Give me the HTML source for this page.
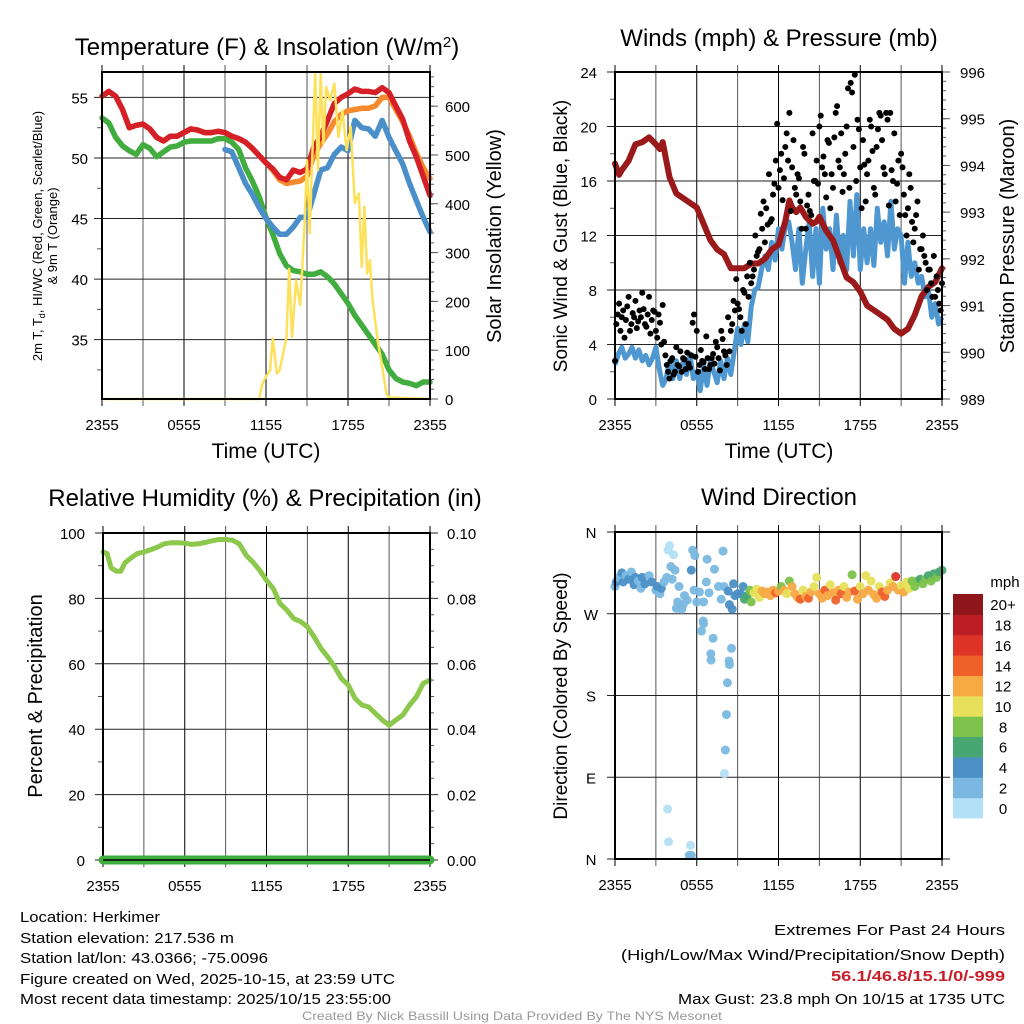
<!DOCTYPE html>
<html><head><meta charset="utf-8"><style>
html,body{margin:0;padding:0;background:#fff;}
svg{display:block;font-family:"Liberation Sans",sans-serif;}
</style></head><body>
<svg id="root" width="1024" height="1024" viewBox="0 0 1024 1024" xmlns="http://www.w3.org/2000/svg">
<g id="g1"></g>
<g id="g2"></g>
<g id="g3"></g>
<g id="g4"></g>
<g font-size="15" fill="#000">
<text x="20" y="922" textLength="140" lengthAdjust="spacingAndGlyphs">Location: Herkimer</text>
<text x="20" y="943" textLength="214" lengthAdjust="spacingAndGlyphs">Station elevation: 217.536 m</text>
<text x="20" y="963" textLength="248" lengthAdjust="spacingAndGlyphs">Station lat/lon: 43.0366; -75.0096</text>
<text x="20" y="984" textLength="375" lengthAdjust="spacingAndGlyphs">Figure created on Wed, 2025-10-15, at 23:59 UTC</text>
<text x="20" y="1004" textLength="371" lengthAdjust="spacingAndGlyphs">Most recent data timestamp: 2025/10/15 23:55:00</text>
<text x="1005" y="935" text-anchor="end" textLength="231" lengthAdjust="spacingAndGlyphs">Extremes For Past 24 Hours</text>
<text x="1005" y="960" text-anchor="end" textLength="384" lengthAdjust="spacingAndGlyphs">(High/Low/Max Wind/Precipitation/Snow Depth)</text>
<text x="1005" y="981" text-anchor="end" textLength="174" lengthAdjust="spacingAndGlyphs" fill="#c8202a" font-weight="bold">56.1/46.8/15.1/0/-999</text>
<text x="1005" y="1004" text-anchor="end" textLength="327" lengthAdjust="spacingAndGlyphs">Max Gust: 23.8 mph On 10/15 at 1735 UTC</text>
<text x="512" y="1020" text-anchor="middle" font-size="12" fill="#999" textLength="420" lengthAdjust="spacingAndGlyphs">Created By Nick Bassill Using Data Provided By The NYS Mesonet</text>
</g>
</svg>
<script>
// ---------- DATA ----------
const tempRed = [55.1,55.5,55.1,54.0,52.5,52.7,52.8,52.4,51.7,51.4,51.8,51.8,52.1,52.4,52.3,52.1,52.1,52.2,52.1,51.8,51.6,51.3,50.8,50.2,49.6,49.1,48.4,48.2,49.0,48.8,49.1,50.9,51.8,53.1,54.5,55.0,55.3,55.7,55.5,55.5,55.4,55.8,55.4,54.3,53.2,51.4,50.1,48.5,46.9];
const tempOrange = [55.1,55.5,55.1,54.0,52.5,52.7,52.8,52.4,51.7,51.4,51.8,51.8,52.1,52.4,52.3,52.1,52.1,52.2,52.1,51.8,51.6,51.3,50.8,50.2,49.6,49.0,48.2,47.9,48.0,48.1,48.5,50.2,51.2,52.0,53.0,53.6,53.9,54.0,54.1,54.1,54.3,55.0,55.0,54.0,53.0,51.8,50.4,49.2,48.3];
const dewGreen = [53.3,52.9,51.7,51.0,50.6,50.3,51.1,50.8,50.1,50.5,50.9,51.0,51.3,51.4,51.4,51.4,51.4,51.6,51.6,51.3,50.7,49.2,48.1,46.8,45.1,43.7,42.1,41.1,40.7,40.6,40.4,40.4,40.6,40.2,39.6,38.8,38.0,37.0,36.2,35.4,34.6,33.8,32.5,31.8,31.5,31.4,31.2,31.5,31.5];
const chillBlue = [null,null,null,null,null,null,null,null,null,null,null,null,null,null,null,null,null,null,50.7,50.5,49.2,47.9,47.0,45.9,45.0,44.3,43.7,43.7,44.3,45.1,45.1,47.0,49.0,49.2,50.3,50.9,50.6,53.1,52.5,52.4,51.8,53.1,51.7,50.6,49.5,47.9,46.5,45.1,43.9];
const solarHours = [0,11.5,11.7,12.0,12.3,12.5,12.8,13.0,13.5,13.7,13.9,14.2,14.5,14.8,15.0,15.2,15.4,15.6,15.8,16.0,16.2,16.4,16.7,17.0,17.3,17.6,17.9,18.2,18.5,18.8,19.0,19.2,19.4,19.6,19.8,20.2,20.5,20.8,21.0,24];
const solarValues = [0,0,28,46,59,124,52,59,127,267,127,243,192,346,489,340,510,666,469,666,523,639,612,646,537,591,510,558,401,421,271,394,257,284,202,114,66,12,3,0];
const sonicWind = [2.5,3.3,3.8,3.0,3.3,3.8,3.0,3.6,2.8,3.2,2.5,3.0,3.8,2.2,1.0,1.5,2.8,1.5,2.8,1.5,2.8,1.8,3.3,1.5,2.0,0.6,2.5,1.0,2.8,2.0,1.2,2.8,1.5,3.0,1.8,3.5,5.2,4.0,5.5,4.2,6.8,8.0,8.2,9.5,10.5,9.5,11.5,10.2,12.5,11.0,12.8,13.0,11.5,9.5,12.5,8.5,11.0,13.0,9.0,12.5,8.5,14.0,11.0,12.5,9.5,13.5,10.0,12.0,9.5,14.5,10.5,15.0,9.5,12.5,10.0,12.5,9.8,14.0,11.5,13.0,10.5,14.5,11.0,12.5,12.0,8.5,11.5,9.0,10.0,8.5,9.0,7.5,8.0,6.0,7.0,5.5,6.0];
const gustValues = [2.8,6.2,5.0,6.5,5.8,7.5,5.5,6.0,5.2,6.5,7.8,5.5,6.2,4.8,6.5,5.0,6.2,4.0,4.2,2.5,1.5,3.0,2.0,2.5,3.5,3.0,2.2,2.6,3.2,6.2,5.0,2.5,2.8,2.2,3.0,2.5,3.3,4.2,3.0,5.0,3.5,2.5,3.5,5.5,6.5,7.0,6.0,8.0,5.5,7.5,8.5,9.5,10.5,11.0,12.5,11.5,12.8,13.0,15.0,17.5,15.5,18.0,16.2,19.5,21.0,17.0,15.5,16.5,14.5,18.5,12.5,15.0,13.5,16.0,17.5,20.0,17.0,16.5,19.0,14.0,15.5,21.0,17.5,19.5,16.5,20.0,15.5,22.5,23.8,20.5,17.0,19.0,14.5,17.5,20.0,15.5,18.5,21.0,19.0,16.5,20.5,21.0,16.0,14.5,17.5,18.0,15.0,12.0,16.5,13.0,12.5,14.5,11.0,12.0,10.0,9.5,8.5,10.5,9.0,7.0,8.5];
// second gust series, offset by 0.1 h
const gustValues2 = [5.5,7.0,6.0,4.5,6.8,5.0,6.3,7.2,5.7,6.0,6.6,5.3,7.5,5.8,6.4,4.5,5.6,6.9,3.2,2.0,2.8,1.8,3.8,2.4,2.0,2.9,3.4,2.3,5.6,3.1,2.0,3.6,2.7,4.6,2.2,3.0,2.6,3.8,2.1,4.4,3.2,6.0,5.0,7.2,8.8,6.6,5.0,7.8,9.0,10.0,9.0,12.0,10.8,13.6,14.5,14.0,16.5,13.2,15.8,20.2,16.8,14.6,18.5,17.5,13.8,19.0,15.0,16.2,12.5,18.0,14.2,13.8,19.5,16.0,15.8,20.8,17.8,14.8,18.8,16.5,19.2,21.5,17.0,15.2,18.0,22.8,23.2,18.5,16.0,19.8,14.0,17.2,16.5,20.5,18.2,15.0,19.8,20.8,17.0,21.0,14.2,16.8,19.5,15.8,13.5,17.0,13.5,14.0,15.5,11.5,13.5,9.5,11.0,10.5,8.0,9.5,7.5,7.5,8.0,6.5];
const pressHours = [0,0.3,0.5,1,1.5,2,2.5,3,3.3,3.5,4,4.5,5,5.5,6,6.5,7,7.5,8,8.5,9,9.5,10,10.5,11,11.5,12,12.5,12.8,13,13.3,13.6,14,14.5,14.8,15,15.5,16,16.5,17,17.5,18,18.5,19,19.5,20,20.5,21,21.5,22,22.5,23,23.5,24];
const pressValues = [994.04,993.8,993.9,994.1,994.45,994.5,994.6,994.45,994.35,994.5,993.75,993.4,993.3,993.2,993.1,992.75,992.4,992.2,992.1,991.8,991.8,991.8,991.9,991.9,992.0,992.2,992.3,992.8,993.25,993.1,993.0,993.1,992.9,992.75,992.8,992.9,992.6,992.4,992.0,991.6,991.5,991.3,991.0,990.9,990.8,990.7,990.5,990.4,990.5,990.8,991.2,991.4,991.5,991.8];
const rhHours = [0,0.3,0.6,1,1.3,1.6,2,2.5,3,3.5,4,4.5,5,5.5,6,6.5,7,7.5,8,8.5,9,9.5,10,10.5,11,11.5,12,12.5,13,13.5,14,14.5,15,15.5,16,16.5,17,17.5,18,18.5,19,19.5,20,20.5,21,21.5,22,22.5,23,23.5,24];
const rhValues = [94.2,93.7,89.3,88.3,88.3,90.8,92.2,93.7,94.2,94.9,95.7,96.7,97.0,97.0,96.9,96.5,96.7,97.1,97.6,98.0,98.0,97.8,96.7,93.2,91.1,88.6,85.5,83.0,78.4,76.4,73.8,72.9,71.3,68.2,64.7,62.1,59.1,55.5,53.5,49.4,47.4,46.8,44.8,42.8,41.2,42.8,44.3,47.4,49.9,54.0,55.0];
const precipHours = [0,24];
const precipValues = [0,0];
const dirHours = [0.0,0.1,0.3,0.5,0.6,0.8,1.0,1.2,1.4,1.5,1.7,1.9,2.0,2.2,2.5,2.7,3.0,3.1,3.3,3.4,3.6,3.8,3.9,4.0,4.1,4.2,4.3,4.4,4.5,4.6,4.7,4.9,5.0,5.1,5.3,5.7,5.86,6.76,7.93,5.6,5.8,6.0,6.2,6.5,6.7,6.9,7.3,7.6,7.8,8.0,8.3,8.4,8.6,8.7,8.8,9.0,
6.47,6.5,6.35,7.2,7.03,7.05,8.55,8.37,8.4,8.25,8.18,8.1,8.03,3.86,3.93,5.54,5.45,5.6,
9.2,9.4,9.5,9.7,9.9,10.0,10.2,10.4,10.6,10.8,11.0,11.2,11.4,11.6,11.8,12.0,12.2,12.4,12.6,12.8,13.0,13.2,13.4,13.6,13.8,14.0,14.2,14.4,14.6,14.8,15.0,15.2,15.4,15.6,15.8,16.0,16.2,16.4,16.6,16.8,17.0,17.2,17.4,17.6,17.8,18.0,18.2,18.4,18.6,18.8,19.0,19.2,19.4,19.6,19.8,20.0,20.2,20.4,20.6,20.8,21.0,21.2,21.4,21.6,21.8,22.0,22.2,22.4,22.6,22.8,23.0,23.2,23.4,23.6,23.8,24.0];
const dirDegrees = [300,305,310,315,305,312,308,316,302,310,306,298,310,303,312,305,296,300,292,298,305,310,340,345,322,308,335,318,276,283,300,275,280,290,285,340,334,330,339,318,296,283,294,283,305,293,319,300,286,300,295,280,275,303,290,292,
262,259,251,243,226,219,232,218,214,194,159,120,94,55,19,15,4,4,
292,300,286,290,296,283,293,297,288,295,292,294,290,296,293,295,300,296,292,306,300,292,288,286,296,289,287,294,300,310,292,287,296,290,302,293,285,296,292,300,288,294,313,295,286,300,292,312,296,306,291,287,300,294,289,296,304,300,311,296,301,294,305,298,306,300,306,308,303,308,312,306,314,310,316,318];
const dirSpeeds = [3,4,3,5,4,3,4,3,4,5,3,3,4,4,3,5,3,4,3,4,3,2,1,0.5,3,2,1,3,3,3,3,3,3,3,3,3,3,3,3,5,3,3,3,3,3,3,3,3,3,3,4,4,4,4,5,5,
3,3,3,3,3,3,3,3,3,3,3,3,1,1,1,1,3,3,
5,4,7,6,9,8,10,11,10,12,13,12,12,13,14,12,9,12,11,8,12,13,12,14,10,13,14,12,11,10,13,12,14,13,10,12,15,12,15,10,12,13,8,14,12,10,13,10,12,11,12,13,10,14,15,12,10,12,17,13,11,12,10,11,9,8,8,7,9,8,7,9,7,8,7,7];
const speedLabels = ["0","2","4","6","8","10","12","14","16","18","20+"];
const speedColors = ["#b3e0f6","#7ab8e2","#4a8fc6","#48a673","#7cc24b","#e6e05a","#f7a944","#ef6129","#de3327","#bc1c23","#8e1519"];
const timeTickLabels = ["2355","0555","1155","1755","2355"];
const tempTicks = [35,40,45,50,55];
const solarTicks = [0,100,200,300,400,500,600];
const windTicks = [0,4,8,12,16,20,24];
const pressTicks = [989,990,991,992,993,994,995,996];
const rhTicks = [0,20,40,60,80,100];
const precipTicks = ["0.00","0.02","0.04","0.06","0.08","0.10"];
const dirTickLabels = ["N","E","S","W","N"];

// ---------- HELPERS ----------
const NS = "http://www.w3.org/2000/svg";
function mk(parent, tag, attrs){const e=document.createElementNS(NS,tag);for(const k in attrs)e.setAttribute(k,attrs[k]);parent.appendChild(e);return e;}
function lin(d0,d1,r0,r1){return v=>r0+(v-d0)*(r1-r0)/(d1-d0);}
function txt(parent, x,y,s,size,anchor,name,extra){const t=mk(parent,'text',Object.assign({x:x,y:y,'font-size':size,'text-anchor':anchor||'start',fill:'#000'},extra||{}));t.textContent=s;


return t;}
function pathFrom(xs, ys, fx, fy){let d='';let pen=false;for(let i=0;i<xs.length;i++){if(ys[i]===null){pen=false;continue;}d+=(pen?'L':'M')+fx(xs[i]).toFixed(1)+','+fy(ys[i]).toFixed(1);pen=true;}return d;}

function frame(g, L,R,T,B){
  const fx=lin(0,24,L,R);
  for(let h=0;h<=24;h+=3){
    const x=fx(h);
    const gl=mk(g,'line',{x1:x,y1:T-7,x2:x,y2:B+7,stroke:(h%6===0)?'#000':'#555','stroke-width':1});
    
    
  }
  for(let i=0;i<timeTickLabels.length;i++){
    txt(g, fx(i*6), B+31, timeTickLabels[i], 15, 'middle', 'x-tick-label');
  }
}
function border(g,L,R,T,B){
  const r=mk(g,'rect',{x:L,y:T,width:R-L,height:B-T,fill:'none',stroke:'#000','stroke-width':2});
  
  
}
function hgrid(g,L,R,y,lt,rt){
  const l=mk(g,'line',{x1:L-(lt||0),y1:y,x2:R+(rt||0),y2:y,stroke:'#222','stroke-width':1});
  
  
}
function tick(g,x1,y1,x2,y2){
  const l=mk(g,'line',{x1:x1,y1:y1,x2:x2,y2:y2,stroke:'#555','stroke-width':1});
  
  
}

// ---------- PANEL 1 ----------
(function(){
  const g=document.getElementById('g1');
  const L=102,R=430,T=72,B=399;
  const fx=lin(0,24,L,R), fy=lin(30.1,57.1,B,T), fs=lin(0,670,B,T);
  const title=txt(g,267,55,'Temperature (F) & Insolation (W/m',24,'middle','temperature-title');
  const sup=mk(title,'tspan',{'baseline-shift':'super','font-size':15});sup.textContent='2';
  const tc=mk(title,'tspan',{});tc.textContent=')';
  frame(g,L,R,T,B);
  for(const v of tempTicks){hgrid(g,L,R,fy(v),8,0);txt(g,88,fy(v)+6,String(v),15,'end','temp-tick-label');}
  for(let v=32.5;v<57;v+=5)tick(g,L-5,fy(v),L,fy(v));
  for(const v of solarTicks){tick(g,R,fs(v),R+8,fs(v));txt(g,445,fs(v)+6,String(v),15,'start','solar-tick-label');}
  for(let v=20;v<670;v+=20)tick(g,R,fs(v),R+4,fs(v));
  const hh=tempRed.map((_,i)=>i*0.5);
  const s1=mk(g,'path',{d:pathFrom(hh,dewGreen,fx,fy),fill:'none',stroke:'#42ad3f','stroke-width':5.5,'stroke-linejoin':'round','stroke-linecap':'round'});
  
  
  const s2=mk(g,'path',{d:pathFrom(hh,chillBlue,fx,fy),fill:'none',stroke:'#4a8fc9','stroke-width':5.5,'stroke-linejoin':'round','stroke-linecap':'round'});
  
  
  const s3=mk(g,'path',{d:pathFrom(hh,tempOrange,fx,fy),fill:'none',stroke:'#f58a2e','stroke-width':5.5,'stroke-linejoin':'round','stroke-linecap':'round'});
  
  
  const s4=mk(g,'path',{d:pathFrom(hh,tempRed,fx,fy),fill:'none',stroke:'#d62027','stroke-width':5.5,'stroke-linejoin':'round','stroke-linecap':'round'});
  
  
  const s5=mk(g,'path',{d:pathFrom(solarHours,solarValues,fx,fs),fill:'none',stroke:'#fde15a','stroke-width':2.5,'stroke-linejoin':'round'});
  
  
  border(g,L,R,T,B);
  txt(g,266,458,'Time (UTC)',21,'middle','x-axis-title');
  const yl=mk(g,'text',{transform:'translate(42,236) rotate(-90)','font-size':13,'text-anchor':'middle',fill:'#000'});
  
  
  const a=mk(yl,'tspan',{x:0,y:0});a.textContent='2m T, T';
  const b=mk(yl,'tspan',{'font-size':9,dy:3});b.textContent='d';
  const c=mk(yl,'tspan',{dy:-3});c.textContent=', HI/WC (Red, Green, Scarlet/Blue)';
  const d=mk(yl,'tspan',{x:0,dy:15});d.textContent='& 9m T (Orange)';
  txt(g,0,0,'Solar Insolation (Yellow)',20,'middle','solar-axis-title',{transform:'translate(501,236) rotate(-90)'});
})();

// ---------- PANEL 2 ----------
(function(){
  const g=document.getElementById('g2');
  const L=615,R=942,T=72,B=399;
  const fx=lin(0,24,L,R), fy=lin(0,24,B,T), fp=lin(989,996,B,T);
  txt(g,779,46,'Winds (mph) & Pressure (mb)',24,'middle','winds-title');
  frame(g,L,R,T,B);
  for(const v of windTicks){hgrid(g,L,R,fy(v),8,0);txt(g,597,fy(v)+6,String(v),15,'end','wind-tick-label');}
  for(let v=2;v<24;v+=4)tick(g,L-5,fy(v),L,fy(v));
  for(const v of pressTicks){tick(g,R,fp(v),R+8,fp(v));txt(g,960,fp(v)+6,String(v),15,'start','pressure-tick-label');}
  for(let v=989.2;v<996;v+=0.2)tick(g,R,fp(v),R+4,fp(v));
  const qh=sonicWind.map((_,i)=>i*0.25);
  const w=mk(g,'path',{d:pathFrom(qh,sonicWind,fx,fy),fill:'none',stroke:'#4f97d1','stroke-width':5,'stroke-linejoin':'round'});
  
  
  const p=mk(g,'path',{d:pathFrom(pressHours,pressValues,fx,fp),fill:'none',stroke:'#9a1a1c','stroke-width':6,'stroke-linejoin':'round','stroke-linecap':'round'});
  
  
  for(let i=0;i<gustValues.length;i++){
    const c=mk(g,'circle',{cx:fx(i*0.2),cy:fy(gustValues[i]),r:3,fill:'#000'});
    
    
  }
  for(let i=0;i<gustValues2.length;i++){
    const c=mk(g,'circle',{cx:fx(0.1+i*0.2),cy:fy(gustValues2[i]),r:3,fill:'#000'});
    
    
  }
  border(g,L,R,T,B);
  txt(g,779,458,'Time (UTC)',21,'middle','x-axis-title');
  txt(g,0,0,'Sonic Wind & Gust (Blue, Black)',19,'middle','wind-axis-title',{transform:'translate(567,236) rotate(-90)'});
  txt(g,0,0,'Station Pressure (Maroon)',20,'middle','pressure-axis-title',{transform:'translate(1014,236) rotate(-90)'});
})();

// ---------- PANEL 3 ----------
(function(){
  const g=document.getElementById('g3');
  const L=103,R=430,T=533,B=860;
  const fx=lin(0,24,L,R), fy=lin(0,100,B,T), fpr=lin(0,0.1,B,T);
  txt(g,265,506,'Relative Humidity (%) & Precipitation (in)',24,'middle','humidity-title');
  frame(g,L,R,T,B);
  for(const v of rhTicks){hgrid(g,L,R,fy(v),8,8);txt(g,85,fy(v)+6,String(v),15,'end','rh-tick-label');}
  for(let v=10;v<100;v+=20)tick(g,L-5,fy(v),L,fy(v));
  for(let i=0;i<precipTicks.length;i++){txt(g,447,fy(i*20)+6,precipTicks[i],15,'start','precip-tick-label');}
  for(let v=5;v<100;v+=5)tick(g,R,fy(v),R+4,fy(v));
  const rh=mk(g,'path',{d:pathFrom(rhHours,rhValues,fx,fy),fill:'none',stroke:'#8cc84b','stroke-width':5,'stroke-linejoin':'round','stroke-linecap':'round'});
  
  
  border(g,L,R,T,B);
  const pr=mk(g,'path',{d:pathFrom(precipHours,precipValues,fx,fpr),fill:'none',stroke:'#3dae3d','stroke-width':9,'stroke-linecap':'round'});
  
  
  const ax=mk(g,'line',{x1:L,y1:B,x2:R,y2:B,stroke:'#000','stroke-width':1.5});
  
  
  txt(g,0,0,'Percent & Precipitation',20,'middle','rh-axis-title',{transform:'translate(42,696) rotate(-90)'});
})();

// ---------- PANEL 4 ----------
(function(){
  const g=document.getElementById('g4');
  const L=615,R=942,T=532,B=859;
  const fx=lin(0,24,L,R), fy=lin(0,360,B,T);
  txt(g,779,505,'Wind Direction',24,'middle','wind-direction-title');
  frame(g,L,R,T,B);
  for(let i=0;i<dirTickLabels.length;i++){const v=i*90;hgrid(g,L,R,fy(v),8,8);txt(g,591,fy(v)+6,dirTickLabels[i],15,'middle','direction-tick-label');}
  for(let i=0;i<dirHours.length;i++){
    const bin=Math.min(10,Math.floor(dirSpeeds[i]/2));
    const c=mk(g,'circle',{cx:fx(dirHours[i]),cy:fy(dirDegrees[i]),r:4.5,fill:speedColors[bin],'fill-opacity':0.95});
    
    
  }
  border(g,L,R,T,B);
  txt(g,0,0,'Direction (Colored By Speed)',19,'middle','direction-axis-title',{transform:'translate(567,696) rotate(-90)'});
  const cb=mk(g,'g',{});
  
  
  const top=594,bot=818,bh=(bot-top)/speedColors.length;
  for(let i=0;i<speedColors.length;i++){
    const y=bot-(i+1)*bh;
    const r=mk(cb,'rect',{x:953,y:y,width:30,height:bh+0.5,fill:speedColors[i]});
    
    
    txt(cb,1003,y+bh/2+6,speedLabels[i],15,'middle','colorbar-label');
  }
  txt(cb,1005,587,'mph',15,'middle','colorbar-title');
})();
</script>
</body></html>
